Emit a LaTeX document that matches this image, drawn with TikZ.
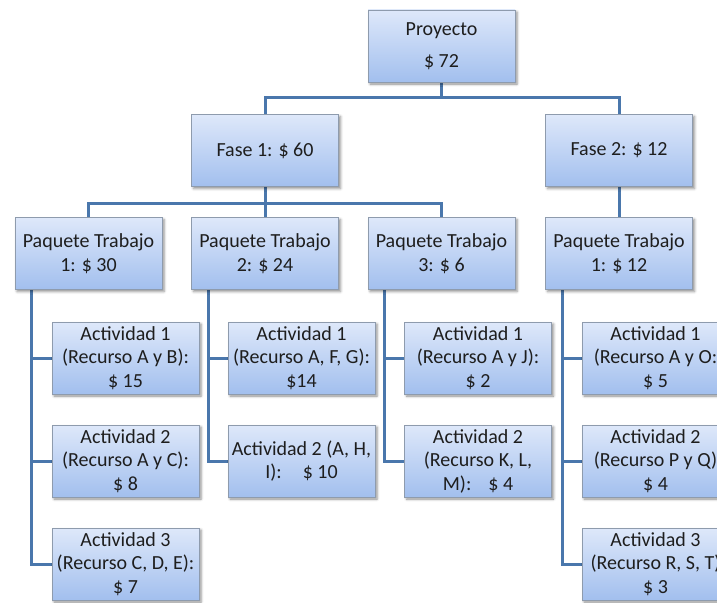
\documentclass[tikz,border=0pt]{standalone}
\usepackage{fontspec}
\setmainfont{Carlito}
\usetikzlibrary{shadows.blur,backgrounds}

\definecolor{boxtop}{HTML}{DEE8FA}
\definecolor{boxbot}{HTML}{A2BFEE}
\definecolor{boxedge}{HTML}{8E9BAD}
\definecolor{linkblue}{HTML}{4A77AC}
\definecolor{ink}{HTML}{1E1E1E}

\tikzset{
  wbs/.style={draw=boxedge, line width=0.8pt, top color=boxtop, bottom color=boxbot,
    minimum width=147pt, minimum height=72pt, inner sep=0pt, align=center,
    font=\fontsize{20}{23.5}\selectfont, text=ink,
    blur shadow={shadow xshift=2pt, shadow yshift=-2pt, shadow blur radius=2.5pt, shadow opacity=45}},
  link/.style={draw=linkblue, line width=3pt},
}

\begin{document}
\begin{tikzpicture}[x=1pt,y=-1pt]
\useasboundingbox (0,0) rectangle (717,602);
\clip (0,0) rectangle (717,602);

% top levels
\node[wbs] (proj) at (441.5,46) {Proyecto\\[8pt]\$ 72};
\node[wbs] (f1) at (265,150.5) {Fase 1: \$ 60};
\node[wbs] (f2) at (619,150.5) {Fase 2: \$ 12};

% work packages
\node[wbs] (p1) at (88.5,253.5) {Paquete Trabajo\\1: \$ 30};
\node[wbs] (p2) at (265,253.5) {Paquete Trabajo\\2: \$ 24};
\node[wbs] (p3) at (441.5,253.5) {Paquete Trabajo\\3: \$ 6};
\node[wbs] (p4) at (619,253.5) {Paquete Trabajo\\1: \$ 12};

% activities
\node[wbs] (a11) at (125.5,358) {Actividad 1\\(Recurso A y B):\\\$ 15};
\node[wbs] (a12) at (125.5,461) {Actividad 2\\(Recurso A y C):\\\$ 8};
\node[wbs] (a13) at (125.5,564) {Actividad 3\\(Recurso C, D, E):\\\$ 7};

\node[wbs] (a21) at (301.5,358) {Actividad 1\\(Recurso A, F, G):\\\$14};
\node[wbs] (a22) at (301.5,461) {Actividad 2 (A, H,\\I):\hspace{21pt}\$ 10};

\node[wbs] (a31) at (478,358) {Actividad 1\\(Recurso A y J):\\\$ 2};
\node[wbs] (a32) at (478,461) {Actividad 2\\(Recurso K, L,\\M):\hspace{17pt}\$ 4};

\node[wbs] (a41) at (655.5,358) {Actividad 1\\(Recurso A y O:\\\$ 5};
\node[wbs] (a42) at (655.5,461) {Actividad 2\\(Recurso P y Q)\\\$ 4};
\node[wbs] (a43) at (655.5,564) {Actividad 3\\(Recurso R, S, T)\\\$ 3};

\coordinate (bus1) at (441.5,97);
\coordinate (bus2) at (265,203.5);

\begin{pgfonlayer}{background}
  % project to phases
  \draw[link] (proj.south) -- (bus1) -| (f1.north);
  \draw[link] (bus1) -| (f2.north);
  % phase 1 to its packages
  \draw[link] (f1.south) -- (bus2) -| (p1.north);
  \draw[link] (bus2) -| (p3.north);
  \draw[link] (bus2) -- (p2.north);
  % phase 2 to its package
  \draw[link] (f2.south) -- (p4.north);
  % packages to activities
  \draw[link] ([xshift=17pt]p1.south west) |- (a11.west);
  \draw[link] ([xshift=17pt]p1.south west) |- (a12.west);
  \draw[link] ([xshift=17pt]p1.south west) |- (a13.west);
  \draw[link] ([xshift=17pt]p2.south west) |- (a21.west);
  \draw[link] ([xshift=17pt]p2.south west) |- (a22.west);
  \draw[link] ([xshift=17pt]p3.south west) |- (a31.west);
  \draw[link] ([xshift=17pt]p3.south west) |- (a32.west);
  \draw[link] ([xshift=17pt]p4.south west) |- (a41.west);
  \draw[link] ([xshift=17pt]p4.south west) |- (a42.west);
  \draw[link] ([xshift=17pt]p4.south west) |- (a43.west);
\end{pgfonlayer}
\end{tikzpicture}
\end{document}
